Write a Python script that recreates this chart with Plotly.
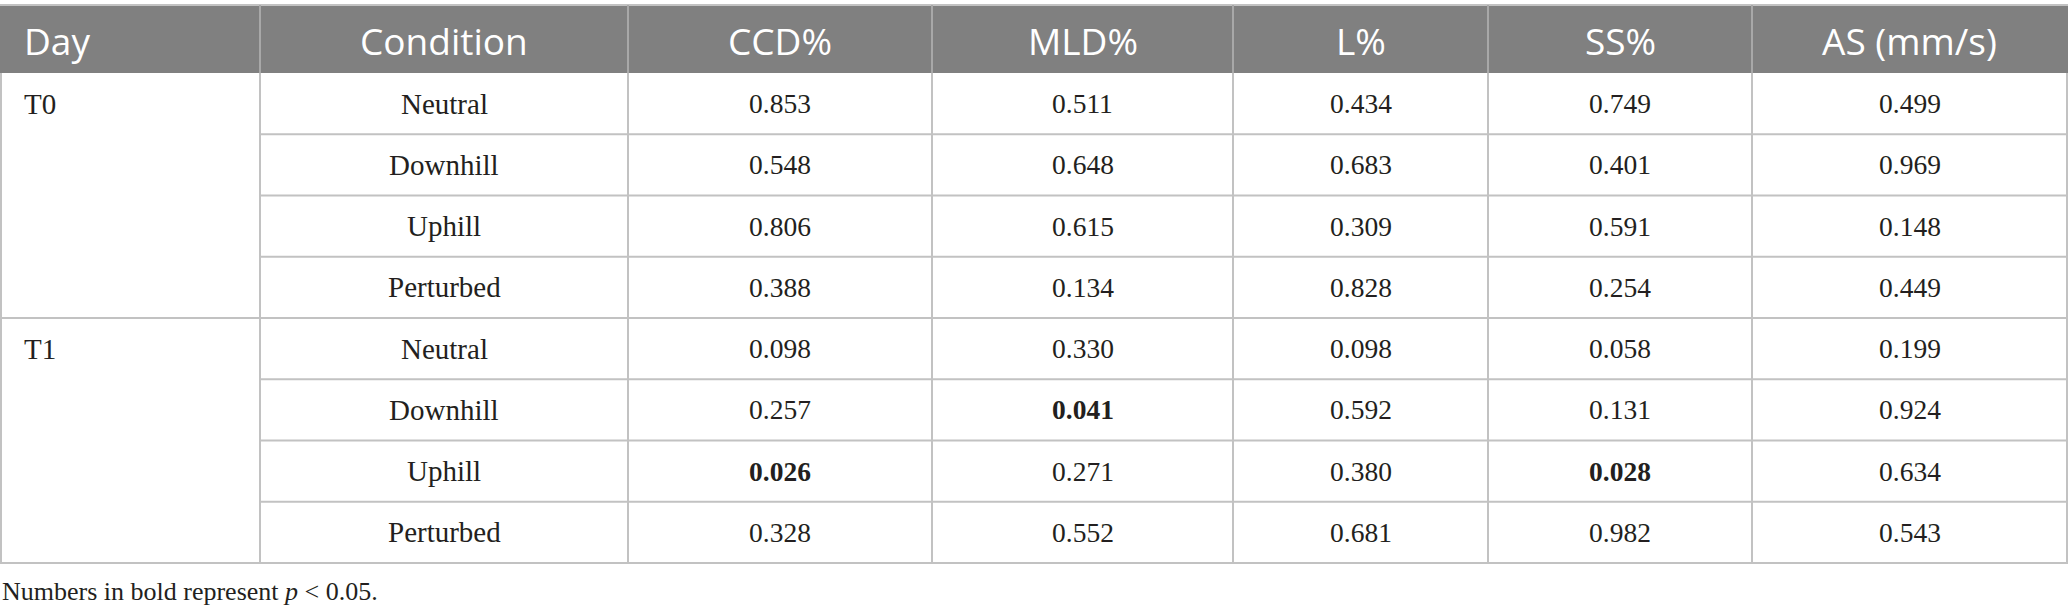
import plotly.graph_objects as go

# ---------------- data ----------------
days = ["T0", "T1"]
conditions = ["Neutral", "Downhill", "Uphill", "Perturbed"]
headers = ["Day", "Condition", "CCD%", "MLD%", "L%", "SS%", "AS (mm/s)"]
ccd = [0.853, 0.548, 0.806, 0.388, 0.098, 0.257, 0.026, 0.328]
mld = [0.511, 0.648, 0.615, 0.134, 0.330, 0.041, 0.271, 0.552]
l_pct = [0.434, 0.683, 0.309, 0.828, 0.098, 0.592, 0.380, 0.681]
ss = [0.749, 0.401, 0.591, 0.254, 0.058, 0.131, 0.028, 0.982]
as_mm = [0.499, 0.969, 0.148, 0.449, 0.199, 0.924, 0.634, 0.543]
alpha = 0.05
footnote = "Numbers in bold represent <i>p</i> &lt; 0.05."

# ---------------- layout / style ----------------
W, H = 2068, 616
col_edges = [0, 260, 628, 932, 1233, 1488, 1752, 2067]
hdr_top, hdr_bot = 5, 73
row_h = 61.25
grid = "#c2c2c2"
hdr_fill = "#808080"
txt = "#231f20"
serif = "Liberation Serif, Times New Roman, serif"
sans = "Open Sans, Noto Sans, sans-serif"

value_cols = [ccd, mld, l_pct, ss, as_mm]
n_rows = len(days) * len(conditions)
body_bot = hdr_bot + n_rows * row_h

shapes = []
annotations = []

# header band
shapes.append(dict(type="rect", x0=0, x1=W, y0=hdr_top, y1=hdr_bot,
                   fillcolor=hdr_fill, line=dict(width=0), layer="below"))
shapes.append(dict(type="line", x0=0, x1=W, y0=hdr_top, y1=hdr_top,
                   line=dict(color=grid, width=2)))
for xe in col_edges[1:-1]:
    shapes.append(dict(type="line", x0=xe, x1=xe, y0=hdr_top, y1=hdr_bot,
                       line=dict(color="#a8a8a8", width=2)))

# body verticals
for i, xe in enumerate(col_edges):
    xx = 1 if i == 0 else (W - 1 if i == len(col_edges) - 1 else xe)
    shapes.append(dict(type="line", x0=xx, x1=xx, y0=hdr_bot, y1=body_bot,
                       line=dict(color=grid, width=2)))

# body horizontals
for r in range(1, n_rows + 1):
    y = hdr_bot + r * row_h
    full = (r % len(conditions) == 0)
    shapes.append(dict(type="line", x0=0 if full else col_edges[1], x1=W,
                       y0=y, y1=y, line=dict(color=grid, width=2)))

# header text
for j, h in enumerate(headers):
    if j == 0:
        x, xa = col_edges[0] + 22, "left"
    else:
        x, xa = (col_edges[j] + col_edges[j + 1]) / 2, "center"
    annotations.append(dict(x=x, y=(hdr_top + hdr_bot) / 2 + 1, text=h, showarrow=False,
                            xanchor=xa, yanchor="middle",
                            font=dict(family=sans, size=37, color="white")))

# body text
for g, d in enumerate(days):
    y0 = hdr_bot + g * len(conditions) * row_h + row_h / 2
    annotations.append(dict(x=col_edges[0] + 22, y=y0, text=d, showarrow=False,
                            xanchor="left", yanchor="middle",
                            font=dict(family=serif, size=29, color=txt)))
    for k, c in enumerate(conditions):
        r = g * len(conditions) + k
        yc = hdr_bot + r * row_h + row_h / 2
        annotations.append(dict(x=(col_edges[1] + col_edges[2]) / 2, y=yc, text=c,
                                showarrow=False, xanchor="center", yanchor="middle",
                                font=dict(family=serif, size=29, color=txt)))
        for j, vals in enumerate(value_cols):
            v = vals[r]
            s = f"{v:.3f}"
            if v < alpha:
                s = f"<b>{s}</b>"
            annotations.append(dict(x=(col_edges[j + 2] + col_edges[j + 3]) / 2, y=yc,
                                    text=s, showarrow=False, xanchor="center",
                                    yanchor="middle",
                                    font=dict(family=serif, size=27.5, color=txt)))

# footnote
annotations.append(dict(x=0, y=591, text=footnote, showarrow=False, xanchor="left",
                        yanchor="middle", font=dict(family=serif, size=26, color=txt)))

fig = go.Figure()
fig.update_layout(
    width=W, height=H, margin=dict(l=0, r=0, t=0, b=0),
    paper_bgcolor="white", plot_bgcolor="white",
    xaxis=dict(range=[0, W], visible=False, fixedrange=True),
    yaxis=dict(range=[H, 0], visible=False, fixedrange=True),
    shapes=shapes, annotations=annotations, showlegend=False,
)
fig.write_html("out.html", config={"displayModeBar": False},
               post_script="document.body.style.margin='0';document.body.style.overflow='hidden';")
